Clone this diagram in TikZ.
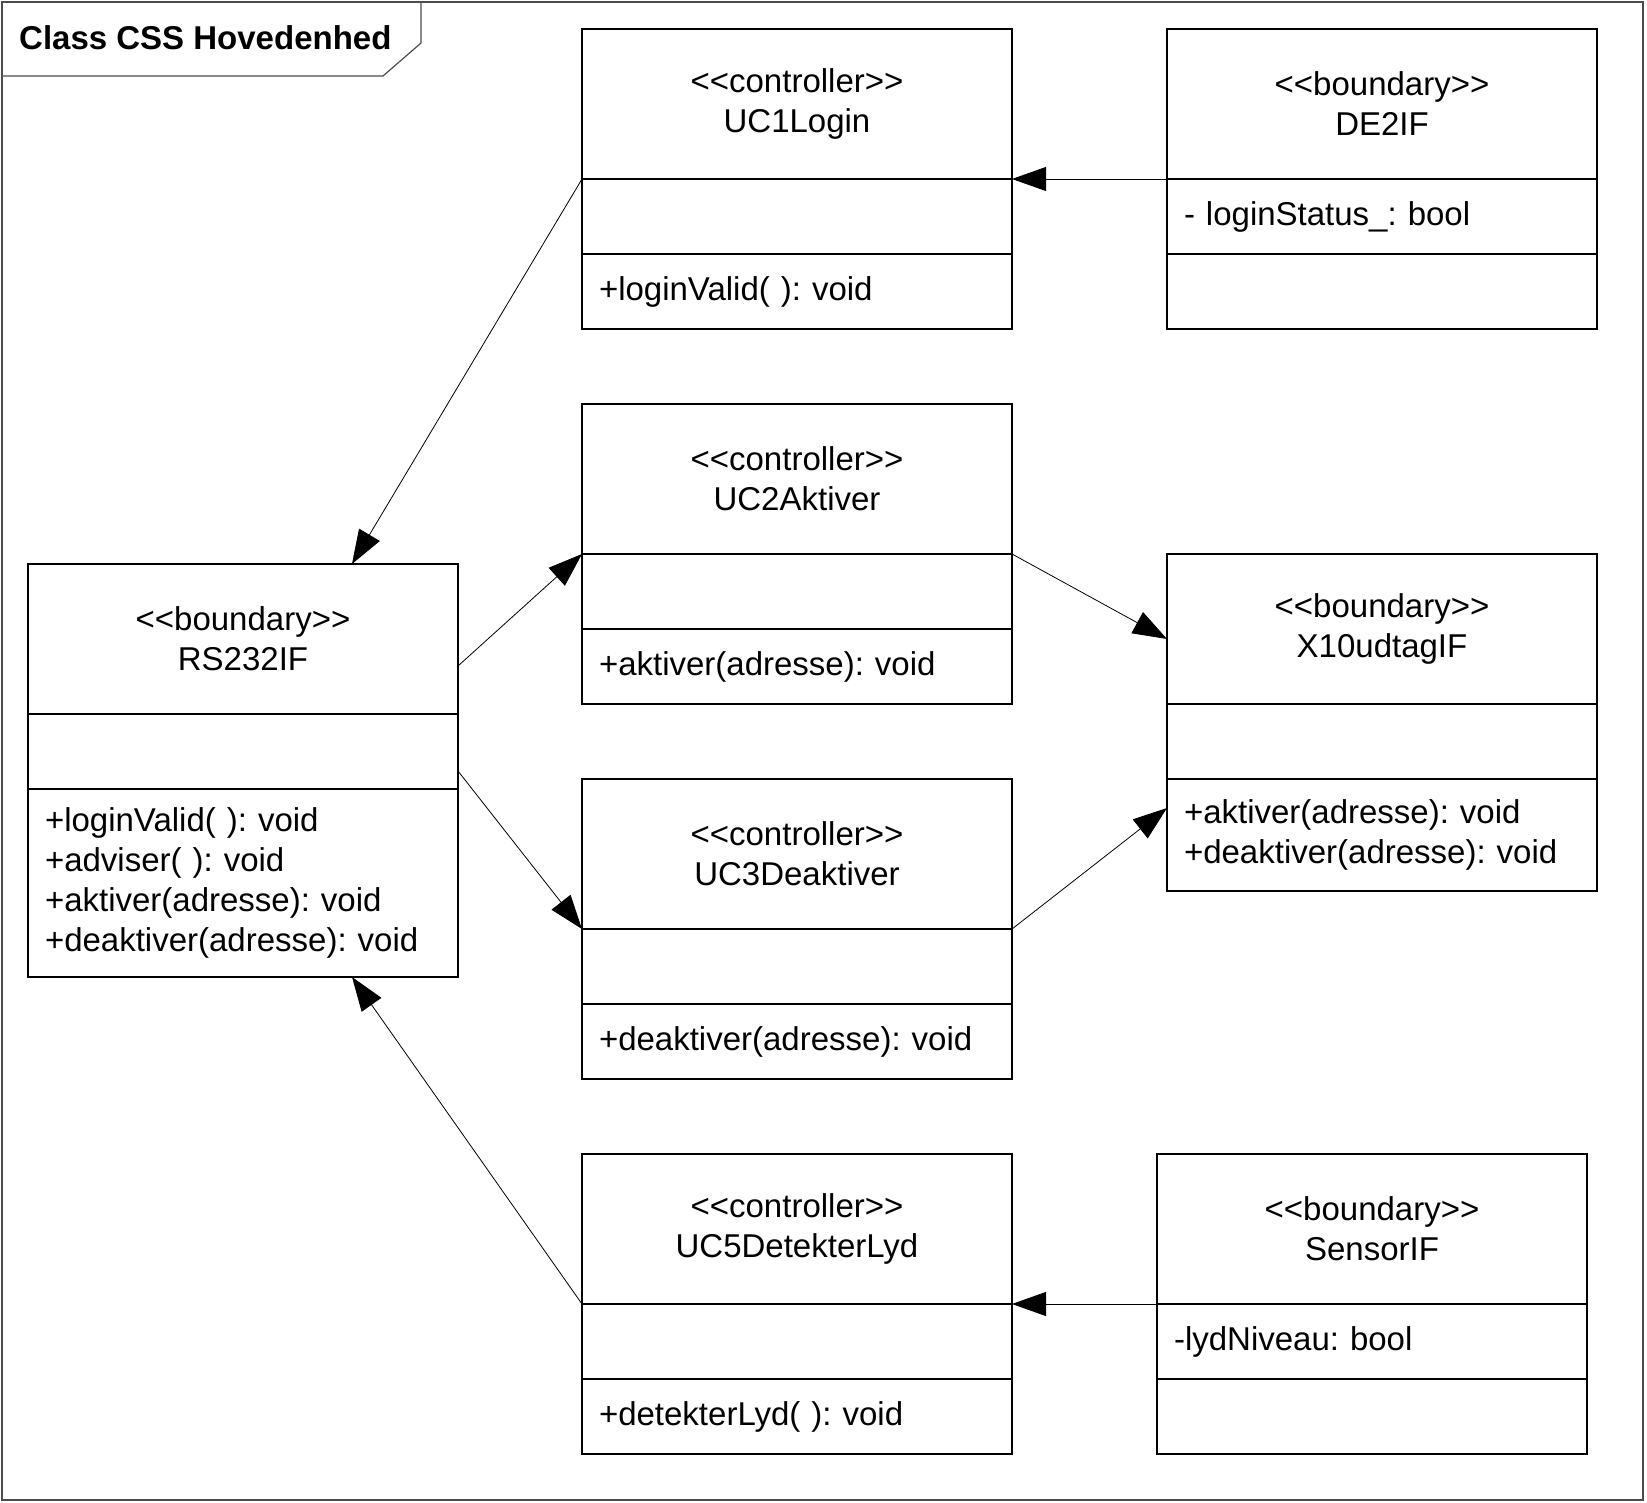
\documentclass[tikz,border=0pt]{standalone}
\usepackage{fontspec}
\usepackage{tikz}
\usetikzlibrary{calc,arrows.meta}
\newfontfamily\umlfont{Liberation Sans}
\newcommand{\umltext}{\umlfont\fontsize{33pt}{40pt}\selectfont\frenchspacing}
\newcommand{\stereo}[1]{<\kern0pt<#1>\kern0pt>}

\begin{document}
\begin{tikzpicture}[x=1pt, y=-1pt,
    classhead/.style={draw, line width=1.2pt, minimum width=430pt, minimum height=150pt,
        inner sep=0pt, outer sep=0pt, align=center, anchor=north west, font=\umltext},
    classpart/.style={draw, line width=1.2pt, minimum width=430pt, minimum height=75pt,
        text width=396pt, inner sep=0pt, inner xsep=17pt, outer sep=0pt, align=left, anchor=north,
        font=\umltext},
    assoc/.style={line width=0.8pt, -{Triangle[length=34pt,width=24pt]}}]
    \useasboundingbox (0,0) rectangle (1647,1503);

    % Frame
    \draw[line width=1.5pt, black!70] (2,2) rectangle (1643,1500);
    \draw[line width=1.2pt, black!70] (2,76) -- (383,76) -- (421,43) -- (421,2);
    \node[anchor=west, inner sep=0pt, font=\umltext\bfseries] (title) at (19,38) {Class CSS Hovedenhed};

    % Controller classes
    \node[classhead] (uc1) at (582,29) {\stereo{controller}\\UC1Login};
    \node[classpart] (uc1-attr) at (uc1.south) {};
    \node[classpart] (uc1-ops) at (uc1-attr.south) {+loginValid( ): void};

    \node[classhead] (uc2) at (582,404) {\stereo{controller}\\UC2Aktiver};
    \node[classpart] (uc2-attr) at (uc2.south) {};
    \node[classpart] (uc2-ops) at (uc2-attr.south) {+aktiver(adresse): void};

    \node[classhead] (uc3) at (582,779) {\stereo{controller}\\UC3Deaktiver};
    \node[classpart] (uc3-attr) at (uc3.south) {};
    \node[classpart] (uc3-ops) at (uc3-attr.south) {+deaktiver(adresse): void};

    \node[classhead] (uc5) at (582,1154) {\stereo{controller}\\UC5DetekterLyd};
    \node[classpart] (uc5-attr) at (uc5.south) {};
    \node[classpart] (uc5-ops) at (uc5-attr.south) {+detekterLyd( ): void};

    % Boundary classes
    \node[classhead] (rs) at (28,564) {\stereo{boundary}\\RS232IF};
    \node[classpart] (rs-attr) at (rs.south) {};
    \node[classpart, minimum height=188pt] (rs-ops) at (rs-attr.south)
        {+loginValid( ): void\\+adviser( ): void\\+aktiver(adresse): void\\+deaktiver(adresse): void};

    \node[classhead] (de2if) at (1167,29) {\stereo{boundary}\\DE2IF};
    \node[classpart] (de2if-attr) at (de2if.south) {- loginStatus\_: bool};
    \node[classpart] (de2if-ops) at (de2if-attr.south) {};

    \node[classhead] (x10) at (1167,554) {\stereo{boundary}\\X10udtagIF};
    \node[classpart] (x10-attr) at (x10.south) {};
    \node[classpart, minimum height=112pt] (x10-ops) at (x10-attr.south)
        {+aktiver(adresse): void\\+deaktiver(adresse): void};

    \node[classhead] (sensor) at (1157,1154) {\stereo{boundary}\\SensorIF};
    \node[classpart] (sensor-attr) at (sensor.south) {-lydNiveau: bool};
    \node[classpart] (sensor-ops) at (sensor-attr.south) {};

    % Associations
    \draw[assoc] (de2if.south west) -- (uc1.south east);
    \draw[assoc] (uc1.south west) -- ($(rs.north west)+(324,0)$);
    \draw[assoc] ($(rs.north east)+(0,102)$) -- (uc2.south west);
    \draw[assoc] ($(rs-attr.north east)+(0,57)$) -- (uc3.south west);
    \draw[assoc] (uc2.south east) -- ($(x10.north west)+(0,85)$);
    \draw[assoc] (uc3.south east) -- ($(x10-ops.north west)+(0,29)$);
    \draw[assoc] (uc5.south west) -- ($(rs-ops.south west)+(324,0)$);
    \draw[assoc] (sensor.south west) -- (uc5.south east);
\end{tikzpicture}
\end{document}
